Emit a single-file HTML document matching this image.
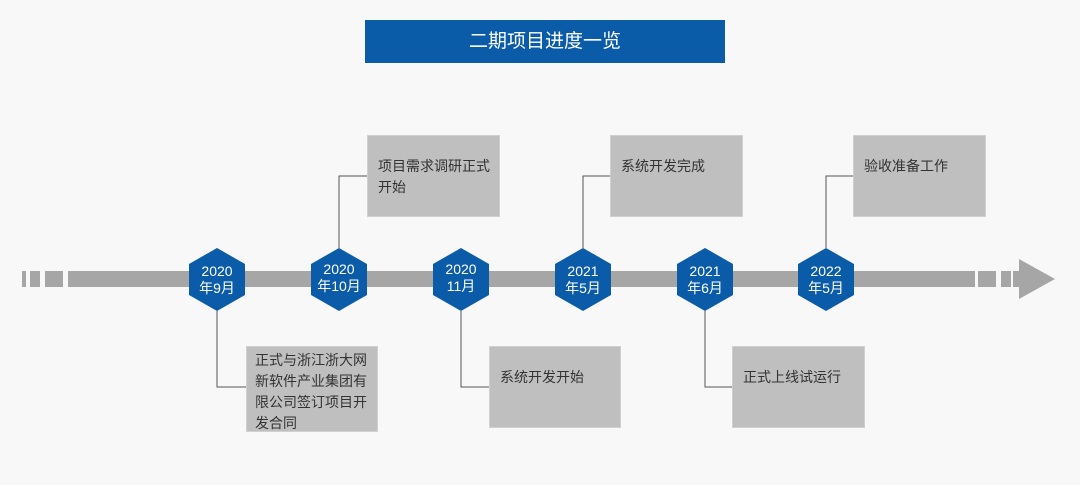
<!DOCTYPE html>
<html><head><meta charset="utf-8"><style>
body{margin:0;width:1080px;height:485px;background:#f8f8f8;position:relative;overflow:hidden;font-family:"Liberation Sans","Noto Sans CJK SC",sans-serif}
.title{position:absolute;left:365px;top:20px;width:360px;height:43px;background:#0b5ca8;color:#fff;font-size:19px;text-align:center;line-height:43px}
.box{position:absolute;background:#bfbfbf;border:1px solid #d0d0d0;color:#333;font-size:14px;line-height:21px;padding:14px 4px 14px 10px;box-sizing:border-box}
.hex{position:absolute;color:#fff;font-size:14px;text-align:center;line-height:17px}
</style></head><body>
<div class="title">二期项目进度一览</div>
<svg width="1080" height="485" style="position:absolute;left:0;top:0">
<g fill="#a6a6a6">
<rect x="22" y="271" width="4" height="16"/><rect x="30" y="271" width="10" height="16"/><rect x="45" y="271" width="18" height="16"/>
<rect x="68" y="271" width="907" height="16"/>
<rect x="978" y="271" width="18" height="16"/><rect x="1001" y="271" width="10" height="16"/><rect x="1013" y="271" width="8" height="16"/>
<polygon points="1019,259 1055,279 1019,299"/>
</g>
<g stroke="#555" stroke-width="1" fill="none">
<polyline points="339,248 339,176 367,176"/>
<polyline points="583,248 583,176 610,176"/>
<polyline points="826,248 826,176 853,176"/>
<polyline points="217,311 217,387 246,387"/>
<polyline points="461,311 461,387 489,387"/>
<polyline points="705,311 705,387 732,387"/>
</g>
<g fill="#0b5ca8">
<polygon points="217,248 245,264 245,295 217,311 189,295 189,264"/>
<polygon points="339,248 367,264 367,295 339,311 311,295 311,264"/>
<polygon points="461,248 489,264 489,295 461,311 433,295 433,264"/>
<polygon points="583,248 611,264 611,295 583,311 555,295 555,264"/>
<polygon points="705,248 733,264 733,295 705,311 677,295 677,264"/>
<polygon points="826,248 854,264 854,295 826,311 798,295 798,264"/>
</g>
</svg>
<div class="hex" style="left:187px;top:263px;width:60px">2020<br>年9月</div>
<div class="hex" style="left:309px;top:261px;width:60px">2020<br>年10月</div>
<div class="hex" style="left:431px;top:261px;width:60px">2020<br>11月</div>
<div class="hex" style="left:553px;top:263px;width:60px">2021<br>年5月</div>
<div class="hex" style="left:675px;top:263px;width:60px">2021<br>年6月</div>
<div class="hex" style="left:796px;top:263px;width:60px">2022<br>年5月</div>
<div class="box" style="left:367px;top:135px;width:133px;height:82px;padding-top:20px">项目需求调研正式开始</div>
<div class="box" style="left:610px;top:135px;width:133px;height:82px;padding-top:20px">系统开发完成</div>
<div class="box" style="left:853px;top:135px;width:133px;height:82px;padding-top:20px">验收准备工作</div>
<div class="box" style="left:246px;top:346px;width:132px;height:86px;padding-top:3px;padding-left:8px;padding-right:4px">正式与浙江浙大网新软件产业集团有限公司签订项目开发合同</div>
<div class="box" style="left:489px;top:346px;width:132px;height:82px;padding-top:20px">系统开发开始</div>
<div class="box" style="left:732px;top:346px;width:133px;height:82px;padding-top:20px">正式上线试运行</div>
</body></html>
